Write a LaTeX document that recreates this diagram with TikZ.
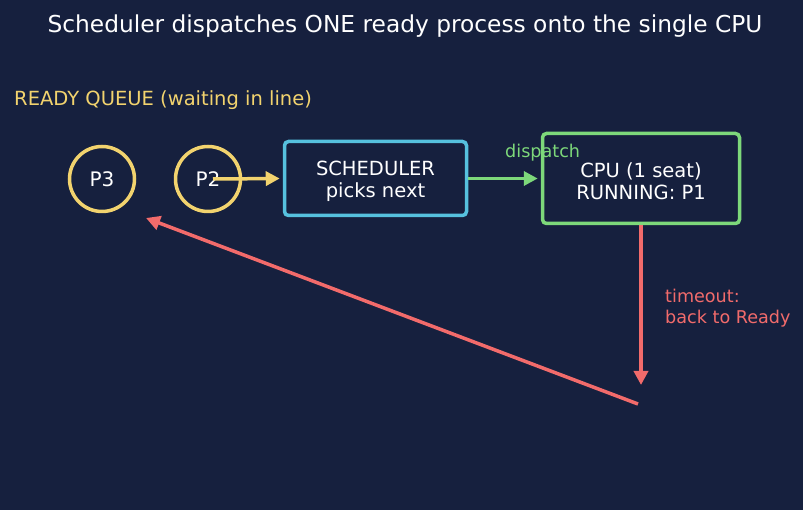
\documentclass[tikz,border=0pt]{standalone}
\usepackage{fontspec}
\setmainfont{DejaVu Sans}
\usepackage{tikz}
\usetikzlibrary{arrows.meta, positioning}
\usepackage{xcolor}
\definecolor{bgnavy}{HTML}{16203E}
\definecolor{queueyellow}{HTML}{F2D36E}
\definecolor{schedcyan}{HTML}{56C1DE}
\definecolor{cpugreen}{HTML}{7DD87A}
\definecolor{timeoutred}{HTML}{F26B6B}

\begin{document}
\begin{tikzpicture}[x=1pt, y=-1pt,
    proc/.style={circle, draw=queueyellow, line width=3.5pt, minimum size=65pt,
                 inner sep=0pt, text=white, font=\fontsize{20}{24}\selectfont},
    unit/.style={rectangle, rounded corners=4pt, line width=3.5pt, fill=bgnavy,
                 text=white, align=center, font=\fontsize{19.5}{22}\selectfont},
    flow/.style={line width=3.5pt, -{Triangle[length=14pt, width=14pt]}},
    note/.style={inner sep=0pt, anchor=west, align=left, font=\fontsize{17.6}{21}\selectfont}]

% canvas
\fill[bgnavy] (0,0) rectangle (803,510);
\useasboundingbox (0,0) rectangle (803,510);

% headings
\node[text=white, font=\fontsize{23.3}{27}\selectfont] (title) at (405,26.5)
  {Scheduler dispatches ONE ready process onto the single CPU};
\node[note, text=queueyellow, font=\fontsize{19.5}{23}\selectfont] (queuelabel) at (14,100)
  {READY QUEUE (waiting in line)};

% ready queue
\node[proc] (pthree) at (102,179) {P3};
\node[proc] (ptwo) at (208,179) {P2};

% scheduler and cpu
\node[unit, draw=schedcyan, minimum width=182pt, minimum height=74pt] (sched) at (375.5,178.5)
  {\rule{0pt}{20pt}SCHEDULER\\picks next};
\node[unit, draw=cpugreen, minimum width=197pt, minimum height=90pt] (cpu) at (641,178.5)
  {\rule{0pt}{20pt}CPU (1 seat)\\RUNNING: P1};

% free ends of the timeout path
\coordinate (preempt) at (641,385);
\coordinate (requeue) at (638,404);
\coordinate (backin) at (146,218);

% connectors
\draw[flow, queueyellow, shorten >=3pt] (ptwo.center) ++(5,0) -- (sched.west);
\draw[flow, cpugreen, shorten >=3pt] (sched.east) -- (cpu.west);
\node[note, text=cpugreen] (dispatchlabel) at (505,153) {dispatch};
\draw[flow, timeoutred] (cpu.south) -- (preempt);
\node[note, text=timeoutred] (timeoutlabel) at (665,308.5) {timeout:\\back to Ready};
\draw[flow, timeoutred] (requeue) -- (backin);
\end{tikzpicture}
\end{document}
